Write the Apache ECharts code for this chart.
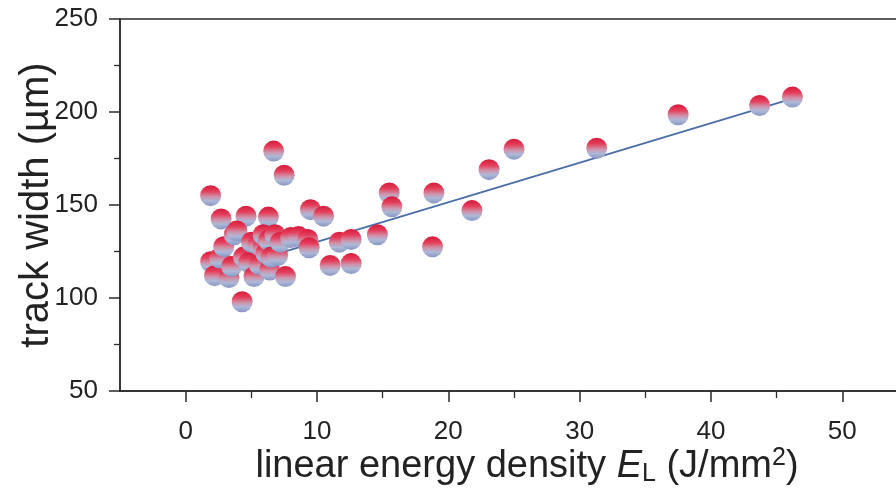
<!DOCTYPE html>
<html>
<head>
<meta charset="utf-8">
<script src="https://cdn.jsdelivr.net/npm/echarts@6/dist/echarts.min.js"></script>
<style>html,body{margin:0;padding:0;background:#fff;}#c{width:896px;height:489px;}</style>
</head>
<body>
<div id="c"></div>
<script>
// energy density E_L (J/mm^2)
const energyX = [
  1.9, 2.7, 4.6, 6.3, 6.7, 7.5,
  1.9, 2.2, 2.6, 2.9, 3.3, 3.5, 3.7, 3.9, 4.3, 4.4, 4.8, 5.0, 5.2, 5.5, 5.6, 5.9, 5.9, 6.1, 6.3, 6.4, 6.5, 6.8, 7.0, 7.2, 7.6, 8.0, 8.6,
  9.3, 9.4, 9.5, 10.5, 11.0, 11.7, 12.6, 12.6, 14.6, 15.5, 15.7, 18.8, 18.9, 21.8, 23.1, 25.0, 31.3, 37.5, 43.7, 46.2
];
// track width (µm)
const trackWidth = [
  155, 142.5, 144, 143.5, 179, 166,
  119.5, 112, 121.5, 127.6, 111, 117, 134, 136, 98, 122, 119, 130, 111.5, 128.7, 118, 127, 134, 124, 131, 115, 122, 134, 122.8, 130, 111.5, 132.5, 133,
  131.5, 127, 147.5, 144, 117.5, 130, 131.5, 118.5, 134, 156.5, 149, 127.5, 156.5, 147, 169, 180, 180.5, 198.5, 203.5, 208
];
// linear fit line end points
const fitX = [1.9, 46.2];
const fitY = [113.0, 207.2];

const xTickLabels = [0, 10, 20, 30, 40, 50];
const xMin = -5, xMax = 55;

const pts = energyX.map((x, i) => [x, trackWidth[i]]);
const fit = fitX.map((x, i) => [x, fitY[i]]);

const W = 896;
const gridLeft = 120, gridRight = -12, gridTop = 19, gridBottom = 98;
const pxPerUnit = (W - gridLeft - gridRight) / (xMax - xMin);
// helper grid whose x-axis starts at 0 so ticks fall on 0,10,20,... (same scale)
const tickGridLeft = gridLeft + (0 - xMin) * pxPerUnit;

const chart = echarts.init(document.getElementById('c'));
const font = 'Liberation Sans, Arial, sans-serif';
const axisCol = '#2a2a2a';
const txt = '#222';
chart.setOption({
  animation: false,
  grid: [
    {left: gridLeft, top: gridTop, right: gridRight, bottom: gridBottom, show: true, borderColor: axisCol, borderWidth: 1.5, containLabel: false, outerBoundsMode: 'none'},
    {left: tickGridLeft, top: gridTop, right: gridRight, bottom: gridBottom, show: false, containLabel: false, outerBoundsMode: 'none'}
  ],
  xAxis: [{
    type: 'value', min: xMin, max: xMax, interval: 5, gridIndex: 0,
    splitLine: {show: false},
    axisLine: {show: true, onZero: false, lineStyle: {color: axisCol, width: 1.5}},
    axisTick: {show: false},
    axisLabel: {customValues: xTickLabels, color: txt, fontSize: 26, fontFamily: font, margin: 28},
    name: '{a|linear energy density }{i|E}{s|L}{a| (J/mm}{p|2}{a|)}',
    nameLocation: 'middle', nameGap: 55, nameMoveOverlap: false,
    nameTextStyle: {
      padding: [0, 0, 0, 26],
      rich: {
        a: {fontSize: 38, fontFamily: font, color: txt},
        i: {fontSize: 38, fontFamily: font, fontStyle: 'italic', color: txt},
        s: {fontSize: 25, fontFamily: font, color: txt, verticalAlign: 'bottom', padding: [16, 0, 0, 0]},
        p: {fontSize: 25, fontFamily: font, color: txt, verticalAlign: 'top', padding: [0, 0, 14, 0]}
      }
    }
  }, {
    type: 'value', min: 0, max: xMax, interval: 10, gridIndex: 1, position: 'bottom',
    splitLine: {show: false},
    axisLine: {show: false},
    axisTick: {show: true, length: 11, lineStyle: {color: axisCol, width: 1.5}},
    minorTick: {show: true, splitNumber: 2, length: 7, lineStyle: {color: axisCol, width: 1.3}},
    axisLabel: {show: false}
  }],
  yAxis: [{
    type: 'value', min: 50, max: 250, interval: 50, gridIndex: 0,
    splitLine: {show: false},
    axisLine: {show: true, onZero: false, lineStyle: {color: axisCol, width: 1.5}},
    axisTick: {show: true, length: 11, lineStyle: {color: axisCol, width: 1.5}},
    minorTick: {show: true, splitNumber: 2, length: 6, lineStyle: {color: axisCol, width: 1.3}},
    axisLabel: {color: txt, fontSize: 26, fontFamily: font, margin: 22},
    name: 'track width (µm)', nameLocation: 'middle', nameGap: 63, nameRotate: 90, nameMoveOverlap: false,
    nameTextStyle: {fontSize: 40, fontFamily: font, color: txt}
  }, {
    type: 'value', min: 50, max: 250, gridIndex: 1, show: false
  }],
  series: [{
    type: 'line', data: fit, xAxisIndex: 0, yAxisIndex: 0, symbol: 'none', z: 1,
    lineStyle: {color: '#4a6ea8', width: 1.8}
  }, {
    type: 'scatter', data: pts, xAxisIndex: 0, yAxisIndex: 0, symbolSize: 21, z: 2,
    itemStyle: {
      opacity: 1,
      color: new echarts.graphic.LinearGradient(0, 0, 0, 1, [
        {offset: 0, color: '#d61a3a'},
        {offset: 0.3, color: '#e4405c'},
        {offset: 0.55, color: '#cf93ab'},
        {offset: 0.75, color: '#adb9d8'},
        {offset: 1, color: '#8795c2'}
      ])
    }
  }]
});
</script>
</body>
</html>
